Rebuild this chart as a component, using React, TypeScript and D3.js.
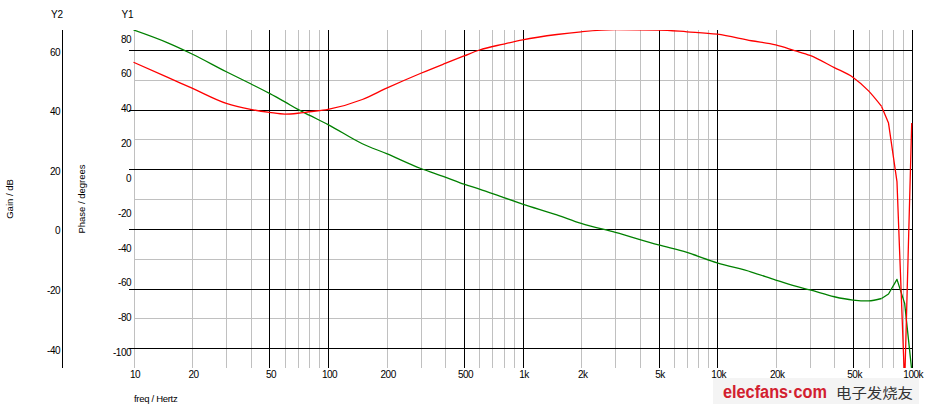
import { useRef, useEffect } from "react";
import * as d3 from "d3";

// sample frequencies (Hz) shared by both traces
const FREQ = [
  10, 15, 20, 30, 40, 50, 60, 70, 80, 100, 150, 200, 300, 400, 500, 600, 800,
  1000, 1500, 2000, 3000, 5000, 7000, 10000, 15000, 20000, 25000, 30000, 40000,
  50000, 60000, 70000, 76000, 84000, 92000, 100000,
];

// red trace, read against Y2 (Gain / dB)
const GAIN_DB = [
  55.9, 50.8, 47.2, 42.1, 40.1, 39.1, 38.5, 38.8, 39.3, 40.1, 43.4, 47.2, 52.2,
  55.5, 58.0, 60.0, 62.0, 63.4, 65.2, 66.1, 66.8, 66.7, 66.1, 65.3, 63.1, 61.7,
  59.8, 58.2, 54.1, 50.8, 46.3, 41.1, 35.5, 15.9, -52, 35.5,
];

// green trace, read against Y1 (Phase / degrees)
const PHASE_DEG = [
  85.2, 77.8, 71.4, 61.2, 54.3, 48.8, 43.9, 39.6, 36.3, 30.9, 19.9, 14.2, 5.7,
  0.8, -3.3, -6.1, -11, -14.7, -20.9, -25.8, -31.0, -38.2, -42.5, -48.4, -53.7,
  -58.3, -61.7, -64.0, -67.9, -69.8, -70.3, -68.9, -66.3, -57.9, -71.7, -110,
];

const X_TICKS = [10, 20, 50, 100, 200, 500, 1000, 2000, 5000, 10000, 20000, 50000, 100000];
const X_TICK_LABELS = ["10", "20", "50", "100", "200", "500", "1k", "2k", "5k", "10k", "20k", "50k", "100k"];
const Y1_TICKS = [80, 60, 40, 20, 0, -20, -40, -60, -80, -100];
const Y2_MAJOR = [60, 40, 20, 0, -20, -40];
const Y2_MINOR = [50, 30, 10, -10, -30];

const W = 927;
const H = 412;
const FONT = "Arial, 'Liberation Sans', sans-serif";
// above this frequency the traces are drawn as straight segments (sharp corners)
const SHARP_FROM = 70000;

export default function App() {
  const svgRef = useRef<SVGSVGElement>(null);

  useEffect(() => {
    if (!svgRef.current) return;
    const svg = d3.select(svgRef.current);
    svg.selectAll("*").remove();

    const top = 30;
    const bottom = 368;
    const left = 133.5;
    const right = 911.7;

    const x = d3.scaleLog().domain([10, 100000]).range([left, right]);
    const y2 = d3.scaleLinear().domain([-40, 60]).range([348.3, 50]);
    const y1 = d3.scaleLinear().domain([-100, 80]).range([352.7, 39]);

    svg.append("rect").attr("width", W).attr("height", H).attr("fill", "#fff");

    const defs = svg.append("defs");
    defs
      .append("clipPath")
      .attr("id", "plot-clip")
      .append("rect")
      .attr("x", left - 2)
      .attr("y", top)
      .attr("width", right - left + 6)
      .attr("height", bottom - top);

    // vertical grid: gray minors, black at 1x and 5x decades
    const vlines: { f: number; major: boolean }[] = [];
    for (let dec = 10; dec < 100000; dec *= 10) {
      for (let m = 1; m <= 9; m++) {
        vlines.push({ f: dec * m, major: m === 5 || (m === 1 && dec > 10) });
      }
    }
    vlines.push({ f: 100000, major: true });

    const grid = svg.append("g").attr("shape-rendering", "crispEdges");
    grid
      .selectAll(".vminor")
      .data(vlines.filter((d) => !d.major))
      .join("line")
      .attr("x1", (d) => Math.round(x(d.f)) + 0.5)
      .attr("x2", (d) => Math.round(x(d.f)) + 0.5)
      .attr("y1", top)
      .attr("y2", bottom)
      .attr("stroke", "#c0c0c0");

    grid
      .selectAll(".hminor")
      .data(Y2_MINOR)
      .join("line")
      .attr("x1", left)
      .attr("x2", right)
      .attr("y1", (d) => Math.round(y2(d)) + 0.5)
      .attr("y2", (d) => Math.round(y2(d)) + 0.5)
      .attr("stroke", "#c0c0c0");

    grid
      .selectAll(".vmajor")
      .data(vlines.filter((d) => d.major))
      .join("line")
      .attr("x1", (d) => Math.round(x(d.f)) + 0.5)
      .attr("x2", (d) => Math.round(x(d.f)) + 0.5)
      .attr("y1", top)
      .attr("y2", bottom)
      .attr("stroke", "#000");

    grid
      .selectAll(".hmajor")
      .data(Y2_MAJOR)
      .join("line")
      .attr("x1", left - 5)
      .attr("x2", right + 1)
      .attr("y1", (d) => Math.round(y2(d)) + 0.5)
      .attr("y2", (d) => Math.round(y2(d)) + 0.5)
      .attr("stroke", "#000");

    // Y2 axis line
    grid
      .append("line")
      .attr("x1", 62.5)
      .attr("x2", 62.5)
      .attr("y1", top)
      .attr("y2", bottom)
      .attr("stroke", "#000");

    // traces: smooth body, straight segments in the steep tail
    const rows = FREQ.map((f, i) => ({ f, gain: GAIN_DB[i], phase: PHASE_DEG[i] }));
    const body = rows.filter((d) => d.f <= SHARP_FROM);
    const tail = rows.filter((d) => d.f >= SHARP_FROM);
    const plot = svg.append("g").attr("clip-path", "url(#plot-clip)");

    type Row = (typeof rows)[number];
    const traces: { key: keyof Row; y: d3.ScaleLinear<number, number>; color: string }[] = [
      { key: "phase", y: y1, color: "#008000" },
      { key: "gain", y: y2, color: "#ff0000" },
    ];

    traces.forEach((t) => {
      const smooth = d3
        .line<Row>()
        .x((d) => x(d.f))
        .y((d) => t.y(d[t.key]))
        .curve(d3.curveMonotoneX);
      const straight = d3
        .line<Row>()
        .x((d) => x(d.f))
        .y((d) => t.y(d[t.key]));
      [smooth(body), straight(tail)].forEach((d) => {
        plot
          .append("path")
          .attr("fill", "none")
          .attr("stroke", t.color)
          .attr("stroke-width", 1.3)
          .attr("stroke-linejoin", "round")
          .attr("d", d);
      });
    });

    // tick labels
    const txt = svg.append("g").style("font-family", FONT).style("font-size", "10px").attr("fill", "#000");

    txt
      .selectAll(".xl")
      .data(X_TICKS)
      .join("text")
      .attr("x", (d) => x(d) + 1.5)
      .attr("y", 374.5)
      .attr("dy", "0.35em")
      .attr("text-anchor", "middle")
      .style("letter-spacing", "-0.5px")
      .text((d, i) => X_TICK_LABELS[i]);

    txt
      .selectAll(".y1l")
      .data(Y1_TICKS)
      .join("text")
      .attr("x", 131)
      .attr("y", (d) => y1(d))
      .attr("dy", "0.35em")
      .attr("text-anchor", "end")
      .style("letter-spacing", "-0.5px")
      .text((d) => `${d}`);

    txt
      .selectAll(".y2l")
      .data(Y2_MAJOR)
      .join("text")
      .attr("x", 60)
      .attr("y", (d) => y2(d) + 2)
      .attr("dy", "0.35em")
      .attr("text-anchor", "end")
      .style("letter-spacing", "-0.5px")
      .text((d) => `${d}`);

    // titles
    txt.append("text").attr("x", 57).attr("y", 14).attr("dy", "0.35em").attr("text-anchor", "middle").text("Y2");
    txt.append("text").attr("x", 127.5).attr("y", 14).attr("dy", "0.35em").attr("text-anchor", "middle").text("Y1");
    txt
      .append("text")
      .attr("transform", `translate(10,${(top + bottom) / 2}) rotate(-90)`)
      .attr("dy", "0.35em")
      .attr("text-anchor", "middle")
      .style("font-size", "9.5px")
      .text("Gain / dB");
    txt
      .append("text")
      .attr("transform", `translate(82,${(top + bottom) / 2}) rotate(-90)`)
      .attr("dy", "0.35em")
      .attr("text-anchor", "middle")
      .style("font-size", "9.5px")
      .text("Phase / degrees");
    txt
      .append("text")
      .attr("x", 134)
      .attr("y", 399)
      .attr("dy", "0.35em")
      .style("font-size", "9.5px")
      .style("letter-spacing", "-0.3px")
      .text("freq / Hertz");

    // watermark
    const wm = svg.append("g");
    wm.append("rect").attr("x", 713).attr("y", 378).attr("width", 206).attr("height", 26).attr("fill", "#f4f4f4");
    wm.append("text")
      .attr("x", 723)
      .attr("y", 398)
      .attr("textLength", 104)
      .attr("lengthAdjust", "spacingAndGlyphs")
      .style("font-family", FONT)
      .style("font-size", "18px")
      .style("font-weight", "bold")
      .attr("fill", "#d2202f")
      .text("elecfans·com");
    wm.append("text")
      .attr("x", 836)
      .attr("y", 398)
      .attr("textLength", 77)
      .attr("lengthAdjust", "spacingAndGlyphs")
      .style("font-family", "'Noto Sans CJK SC', sans-serif")
      .style("font-size", "14px")
      .attr("fill", "#333")
      .text("电子发烧友");
  }, []);

  return (
    <svg
      ref={svgRef}
      width={W}
      height={H}
      viewBox={`0 0 ${W} ${H}`}
      style={{ position: "absolute", left: 0, top: 0, display: "block" }}
    />
  );
}
